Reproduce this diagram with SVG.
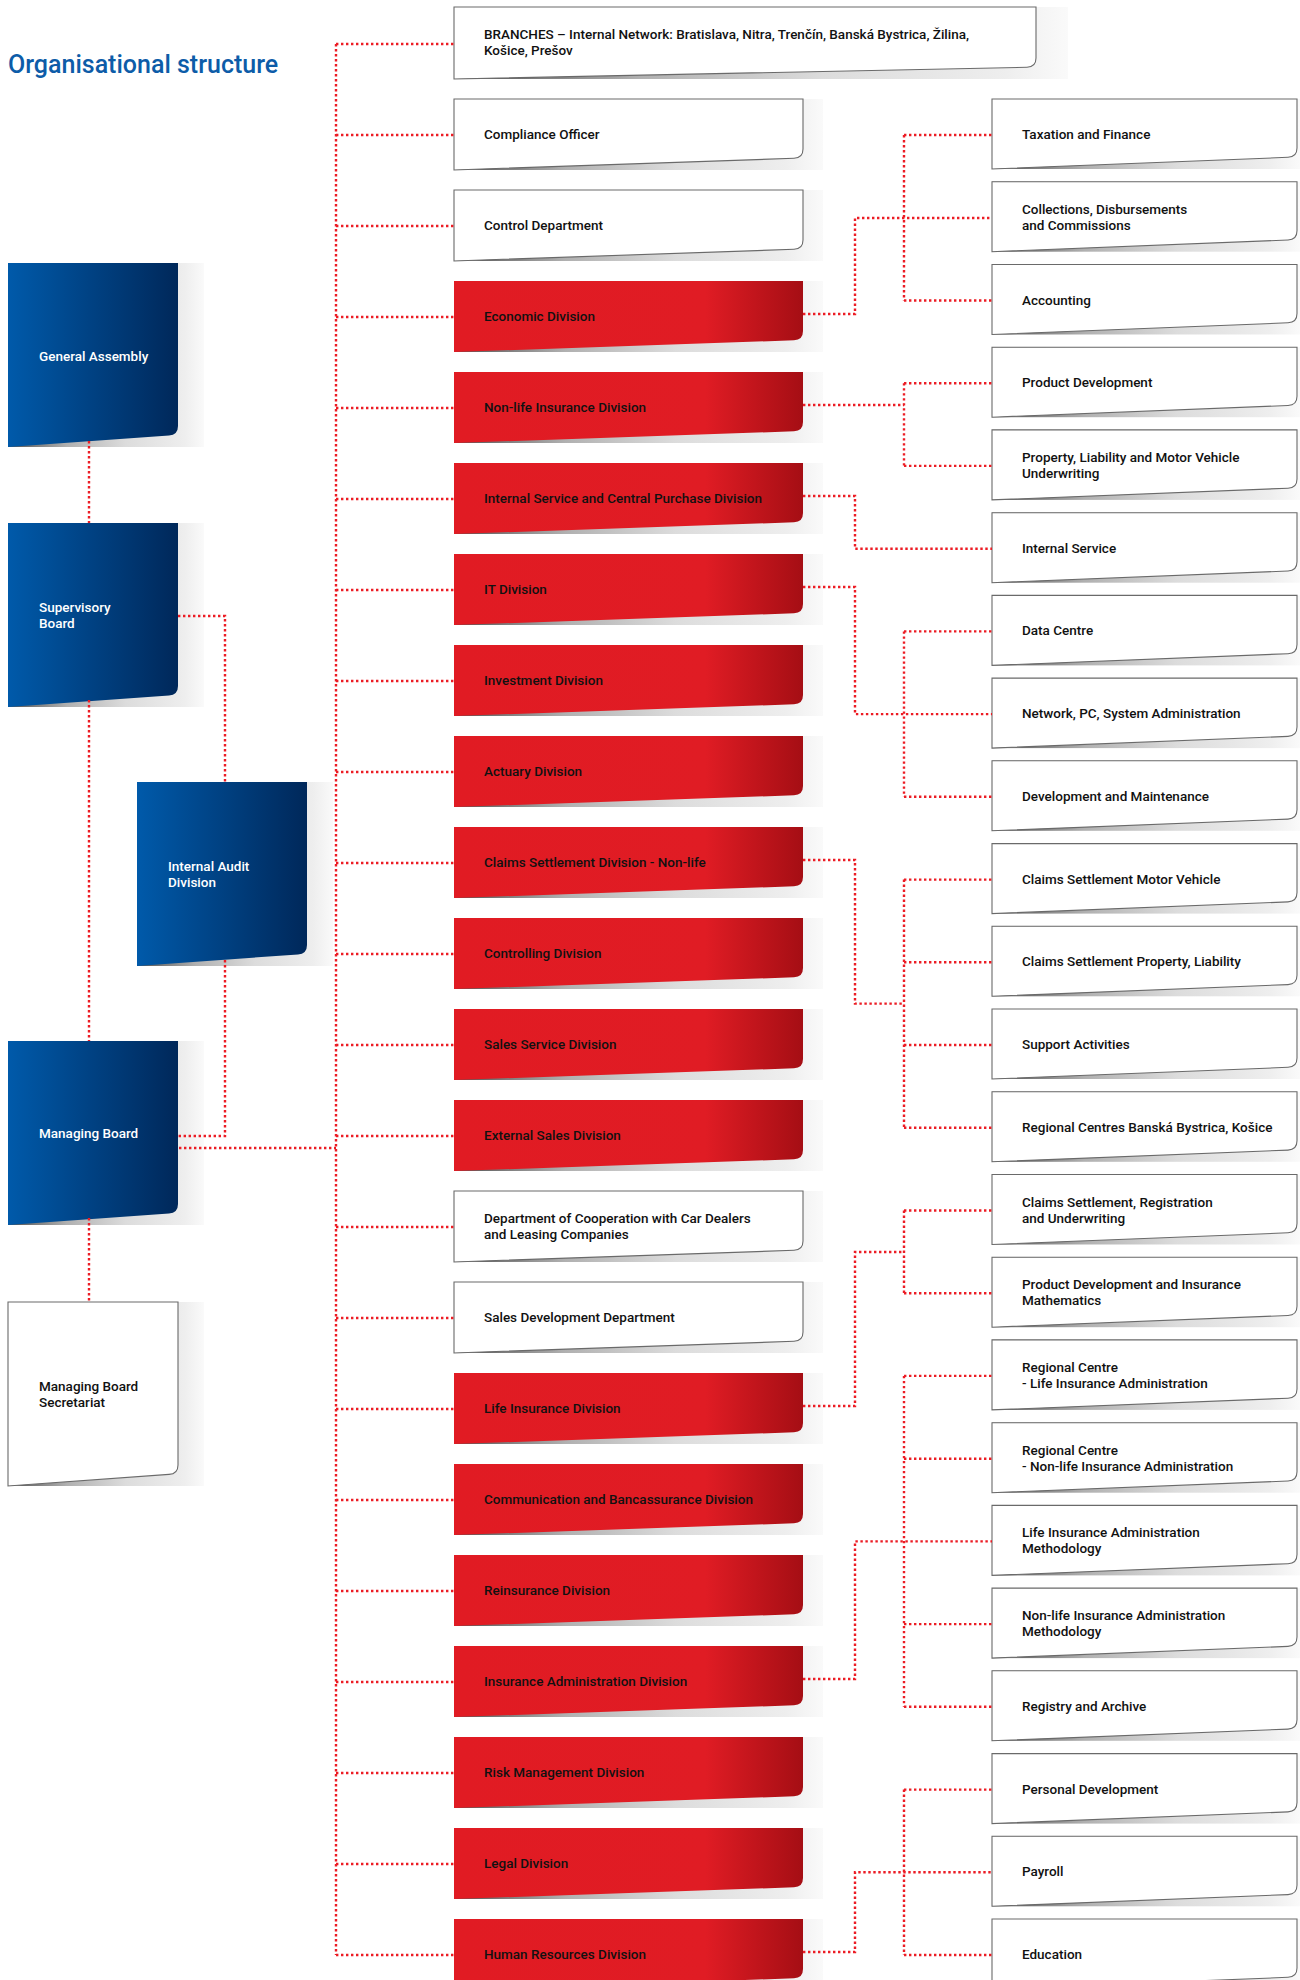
<svg xmlns="http://www.w3.org/2000/svg" xmlns:xlink="http://www.w3.org/1999/xlink" width="1300" height="1980" viewBox="0 0 1300 1980">
<style>
.lbl{font-family:Roboto,"Liberation Sans",sans-serif;font-weight:500;font-size:13.5px;fill:#111}
.lw{fill:#fff}
.title{font-family:Roboto,"Liberation Sans",sans-serif;font-weight:500;font-size:25px;fill:#0d5ca8}
.conn path{fill:none;stroke:#ec1c24;stroke-width:2.4;stroke-dasharray:2.4 2.6}
.white{fill:#fff;stroke:#6a6a6a;stroke-width:1.1}
.red{fill:url(#gRed)}
.blue{fill:url(#gBlue)}
.sh{fill:url(#gShadow)}
</style>
<defs>
<linearGradient id="gRed" x1="0" y1="0" x2="1" y2="0">
<stop offset="0" stop-color="#e11b23"/><stop offset="0.72" stop-color="#e01c24"/><stop offset="1" stop-color="#a50e14"/>
</linearGradient>
<linearGradient id="gBlue" x1="0" y1="0" x2="1" y2="0">
<stop offset="0" stop-color="#005aaa"/><stop offset="1" stop-color="#00285a"/>
</linearGradient>
<linearGradient id="gShadow" x1="0" y1="0" x2="1" y2="0">
<stop offset="0" stop-color="#505050"/><stop offset="0.3" stop-color="#b0b0b0"/><stop offset="0.6" stop-color="#dcdcdc"/><stop offset="0.9" stop-color="#eeeeee"/><stop offset="1" stop-color="#fafafa"/>
</linearGradient>
<path id="bMid" d="M0 0 H349 V50 Q349 59 340 59.3 L0 71 Z"/>
<rect id="sMid" x="0" y="0" width="369" height="71"/>
<path id="bRight" d="M0 0 H305 V49 Q305 58 296 58.3 L0 70 Z"/>
<rect id="sRight" x="0" y="0" width="308" height="70"/>
<path id="bLeft" d="M0 0 H170 V163 Q170 172 161 172.4 L0 184 Z"/>
<rect id="sLeft" x="0" y="0" width="196" height="184"/>
<path id="bBranch" d="M0 0 H582 V51 Q582 60 573 60.3 L0 72 Z"/>
<rect id="sBranch" x="0" y="0" width="614" height="72"/>
</defs>
<rect width="1300" height="1980" fill="#fff"/>
<text class="title" x="8" y="73">Organisational structure</text>

<!-- Left column -->
<g id="n-general-assembly" transform="translate(8,263)"><use href="#sLeft" class="sh"/><use href="#bLeft" class="blue"/><text class="lbl lw" x="31" y="98">General Assembly</text></g>
<g id="n-supervisory-board" transform="translate(8,523)"><use href="#sLeft" class="sh"/><use href="#bLeft" class="blue"/><text class="lbl lw" x="31" y="89">Supervisory</text><text class="lbl lw" x="31" y="105">Board</text></g>
<g id="n-internal-audit" transform="translate(137,782)"><use href="#sLeft" class="sh"/><use href="#bLeft" class="blue"/><text class="lbl lw" x="31" y="89">Internal Audit</text><text class="lbl lw" x="31" y="105">Division</text></g>
<g id="n-managing-board" transform="translate(8,1041)"><use href="#sLeft" class="sh"/><use href="#bLeft" class="blue"/><text class="lbl lw" x="31" y="97">Managing Board</text></g>
<g id="n-mb-secretariat" transform="translate(8,1302)"><use href="#sLeft" class="sh"/><use href="#bLeft" class="white"/><text class="lbl" x="31" y="89">Managing Board</text><text class="lbl" x="31" y="105">Secretariat</text></g>

<!-- Middle column -->
<g id="n-branches" transform="translate(454,7)"><use href="#sBranch" class="sh"/><use href="#bBranch" class="white"/><text class="lbl" x="30" y="32">BRANCHES – Internal Network: Bratislava, Nitra, Trenčín, Banská Bystrica, Žilina,</text><text class="lbl" x="30" y="48">Košice, Prešov</text></g>
<g id="n-compliance" transform="translate(454,99)"><use href="#sMid" class="sh"/><use href="#bMid" class="white"/><text class="lbl" x="30" y="40">Compliance Officer</text></g>
<g id="n-control" transform="translate(454,190)"><use href="#sMid" class="sh"/><use href="#bMid" class="white"/><text class="lbl" x="30" y="40">Control Department</text></g>
<g id="n-economic" transform="translate(454,281)"><use href="#sMid" class="sh"/><use href="#bMid" class="red"/><text class="lbl" x="30" y="40">Economic Division</text></g>
<g id="n-nonlife" transform="translate(454,372)"><use href="#sMid" class="sh"/><use href="#bMid" class="red"/><text class="lbl" x="30" y="40">Non-life Insurance Division</text></g>
<g id="n-internal-service-div" transform="translate(454,463)"><use href="#sMid" class="sh"/><use href="#bMid" class="red"/><text class="lbl" x="30" y="40">Internal Service and Central Purchase Division</text></g>
<g id="n-it" transform="translate(454,554)"><use href="#sMid" class="sh"/><use href="#bMid" class="red"/><text class="lbl" x="30" y="40">IT Division</text></g>
<g id="n-investment" transform="translate(454,645)"><use href="#sMid" class="sh"/><use href="#bMid" class="red"/><text class="lbl" x="30" y="40">Investment Division</text></g>
<g id="n-actuary" transform="translate(454,736)"><use href="#sMid" class="sh"/><use href="#bMid" class="red"/><text class="lbl" x="30" y="40">Actuary Division</text></g>
<g id="n-claims-div" transform="translate(454,827)"><use href="#sMid" class="sh"/><use href="#bMid" class="red"/><text class="lbl" x="30" y="40">Claims Settlement Division - Non-life</text></g>
<g id="n-controlling" transform="translate(454,918)"><use href="#sMid" class="sh"/><use href="#bMid" class="red"/><text class="lbl" x="30" y="40">Controlling Division</text></g>
<g id="n-sales-service" transform="translate(454,1009)"><use href="#sMid" class="sh"/><use href="#bMid" class="red"/><text class="lbl" x="30" y="40">Sales Service Division</text></g>
<g id="n-external-sales" transform="translate(454,1100)"><use href="#sMid" class="sh"/><use href="#bMid" class="red"/><text class="lbl" x="30" y="40">External Sales Division</text></g>
<g id="n-coop" transform="translate(454,1191)"><use href="#sMid" class="sh"/><use href="#bMid" class="white"/><text class="lbl" x="30" y="32">Department of Cooperation with Car Dealers</text><text class="lbl" x="30" y="48">and Leasing Companies</text></g>
<g id="n-sales-dev" transform="translate(454,1282)"><use href="#sMid" class="sh"/><use href="#bMid" class="white"/><text class="lbl" x="30" y="40">Sales Development Department</text></g>
<g id="n-life" transform="translate(454,1373)"><use href="#sMid" class="sh"/><use href="#bMid" class="red"/><text class="lbl" x="30" y="40">Life Insurance Division</text></g>
<g id="n-communication" transform="translate(454,1464)"><use href="#sMid" class="sh"/><use href="#bMid" class="red"/><text class="lbl" x="30" y="40">Communication and Bancassurance Division</text></g>
<g id="n-reinsurance" transform="translate(454,1555)"><use href="#sMid" class="sh"/><use href="#bMid" class="red"/><text class="lbl" x="30" y="40">Reinsurance Division</text></g>
<g id="n-ins-admin" transform="translate(454,1646)"><use href="#sMid" class="sh"/><use href="#bMid" class="red"/><text class="lbl" x="30" y="40">Insurance Administration Division</text></g>
<g id="n-risk" transform="translate(454,1737)"><use href="#sMid" class="sh"/><use href="#bMid" class="red"/><text class="lbl" x="30" y="40">Risk Management Division</text></g>
<g id="n-legal" transform="translate(454,1828)"><use href="#sMid" class="sh"/><use href="#bMid" class="red"/><text class="lbl" x="30" y="40">Legal Division</text></g>
<g id="n-hr" transform="translate(454,1919)"><use href="#sMid" class="sh"/><use href="#bMid" class="red"/><text class="lbl" x="30" y="40">Human Resources Division</text></g>

<!-- Right column -->
<g id="n-taxation" transform="translate(992,99)"><use href="#sRight" class="sh"/><use href="#bRight" class="white"/><text class="lbl" x="30" y="40">Taxation and Finance</text></g>
<g id="n-collections" transform="translate(992,181.7)"><use href="#sRight" class="sh"/><use href="#bRight" class="white"/><text class="lbl" x="30" y="32">Collections, Disbursements</text><text class="lbl" x="30" y="48">and Commissions</text></g>
<g id="n-accounting" transform="translate(992,264.5)"><use href="#sRight" class="sh"/><use href="#bRight" class="white"/><text class="lbl" x="30" y="40">Accounting</text></g>
<g id="n-product-dev" transform="translate(992,347.2)"><use href="#sRight" class="sh"/><use href="#bRight" class="white"/><text class="lbl" x="30" y="40">Product Development</text></g>
<g id="n-property" transform="translate(992,429.9)"><use href="#sRight" class="sh"/><use href="#bRight" class="white"/><text class="lbl" x="30" y="32">Property, Liability and Motor Vehicle</text><text class="lbl" x="30" y="48">Underwriting</text></g>
<g id="n-internal-service" transform="translate(992,512.7)"><use href="#sRight" class="sh"/><use href="#bRight" class="white"/><text class="lbl" x="30" y="40">Internal Service</text></g>
<g id="n-data-centre" transform="translate(992,595.4)"><use href="#sRight" class="sh"/><use href="#bRight" class="white"/><text class="lbl" x="30" y="40">Data Centre</text></g>
<g id="n-network" transform="translate(992,678.1)"><use href="#sRight" class="sh"/><use href="#bRight" class="white"/><text class="lbl" x="30" y="40">Network, PC, System Administration</text></g>
<g id="n-dev-maint" transform="translate(992,760.8)"><use href="#sRight" class="sh"/><use href="#bRight" class="white"/><text class="lbl" x="30" y="40">Development and Maintenance</text></g>
<g id="n-claims-mv" transform="translate(992,843.6)"><use href="#sRight" class="sh"/><use href="#bRight" class="white"/><text class="lbl" x="30" y="40">Claims Settlement Motor Vehicle</text></g>
<g id="n-claims-prop" transform="translate(992,926.3)"><use href="#sRight" class="sh"/><use href="#bRight" class="white"/><text class="lbl" x="30" y="40">Claims Settlement Property, Liability</text></g>
<g id="n-support" transform="translate(992,1009)"><use href="#sRight" class="sh"/><use href="#bRight" class="white"/><text class="lbl" x="30" y="40">Support Activities</text></g>
<g id="n-regional-centres" transform="translate(992,1091.8)"><use href="#sRight" class="sh"/><use href="#bRight" class="white"/><text class="lbl" x="30" y="40">Regional Centres Banská Bystrica, Košice</text></g>
<g id="n-cs-reg" transform="translate(992,1174.5)"><use href="#sRight" class="sh"/><use href="#bRight" class="white"/><text class="lbl" x="30" y="32">Claims Settlement, Registration</text><text class="lbl" x="30" y="48">and Underwriting</text></g>
<g id="n-pd-math" transform="translate(992,1257.2)"><use href="#sRight" class="sh"/><use href="#bRight" class="white"/><text class="lbl" x="30" y="32">Product Development and Insurance</text><text class="lbl" x="30" y="48">Mathematics</text></g>
<g id="n-rc-life" transform="translate(992,1339.9)"><use href="#sRight" class="sh"/><use href="#bRight" class="white"/><text class="lbl" x="30" y="32">Regional Centre</text><text class="lbl" x="30" y="48">- Life Insurance Administration</text></g>
<g id="n-rc-nonlife" transform="translate(992,1422.7)"><use href="#sRight" class="sh"/><use href="#bRight" class="white"/><text class="lbl" x="30" y="32">Regional Centre</text><text class="lbl" x="30" y="48">- Non-life Insurance Administration</text></g>
<g id="n-life-meth" transform="translate(992,1505.4)"><use href="#sRight" class="sh"/><use href="#bRight" class="white"/><text class="lbl" x="30" y="32">Life Insurance Administration</text><text class="lbl" x="30" y="48">Methodology</text></g>
<g id="n-nonlife-meth" transform="translate(992,1588.1)"><use href="#sRight" class="sh"/><use href="#bRight" class="white"/><text class="lbl" x="30" y="32">Non-life Insurance Administration</text><text class="lbl" x="30" y="48">Methodology</text></g>
<g id="n-registry" transform="translate(992,1670.8)"><use href="#sRight" class="sh"/><use href="#bRight" class="white"/><text class="lbl" x="30" y="40">Registry and Archive</text></g>
<g id="n-personal-dev" transform="translate(992,1753.6)"><use href="#sRight" class="sh"/><use href="#bRight" class="white"/><text class="lbl" x="30" y="40">Personal Development</text></g>
<g id="n-payroll" transform="translate(992,1836.3)"><use href="#sRight" class="sh"/><use href="#bRight" class="white"/><text class="lbl" x="30" y="40">Payroll</text></g>
<g id="n-education" transform="translate(992,1919)"><use href="#sRight" class="sh"/><use href="#bRight" class="white"/><text class="lbl" x="30" y="40">Education</text></g>

<g class="conn" id="connectors">
<path d="M336 44 V1955"/>
<path d="M336 44 H454"/>
<path d="M336 135 H454"/><path d="M336 226 H454"/><path d="M336 317 H454"/><path d="M336 408 H454"/>
<path d="M336 499 H454"/><path d="M336 590 H454"/><path d="M336 681 H454"/><path d="M336 772 H454"/>
<path d="M336 863 H454"/><path d="M336 954 H454"/><path d="M336 1045 H454"/><path d="M336 1136 H454"/>
<path d="M336 1227 H454"/><path d="M336 1318 H454"/><path d="M336 1409 H454"/><path d="M336 1500 H454"/>
<path d="M336 1591 H454"/><path d="M336 1682 H454"/><path d="M336 1773 H454"/><path d="M336 1864 H454"/>
<path d="M336 1955 H454"/>
<path d="M89 441 V523"/><path d="M89 700 V1041"/><path d="M89 1218 V1302"/>
<path d="M178 616 H225 V782"/><path d="M225 960 V1136 H178"/><path d="M179 1148 H336"/>
<path d="M803 314 H855 V218 H992"/><path d="M904 135 V300.5"/><path d="M904 135 H992"/><path d="M904 300.5 H992"/>
<path d="M803 405 H904"/><path d="M904 383.2 V465.9"/><path d="M904 383.2 H992"/><path d="M904 465.9 H992"/>
<path d="M803 496 H855 V548.7 H992"/>
<path d="M803 587 H855 V714.1 H992"/><path d="M904 631.4 V796.8"/><path d="M904 631.4 H992"/><path d="M904 796.8 H992"/>
<path d="M803 860 H855 V1003.6 H904"/><path d="M904 879.6 V1127.8"/><path d="M904 879.6 H992"/><path d="M904 962.3 H992"/><path d="M904 1045 H992"/><path d="M904 1127.8 H992"/>
<path d="M803 1406 H855 V1252 H904"/><path d="M904 1210.5 V1293.2"/><path d="M904 1210.5 H992"/><path d="M904 1293.2 H992"/>
<path d="M803 1679 H855 V1541.4 H992"/><path d="M904 1375.9 V1706.8"/><path d="M904 1375.9 H992"/><path d="M904 1458.7 H992"/><path d="M904 1624.1 H992"/><path d="M904 1706.8 H992"/>
<path d="M803 1952 H855 V1872.3 H992"/><path d="M904 1789.6 V1955"/><path d="M904 1789.6 H992"/><path d="M904 1955 H992"/>
</g>
</svg>
